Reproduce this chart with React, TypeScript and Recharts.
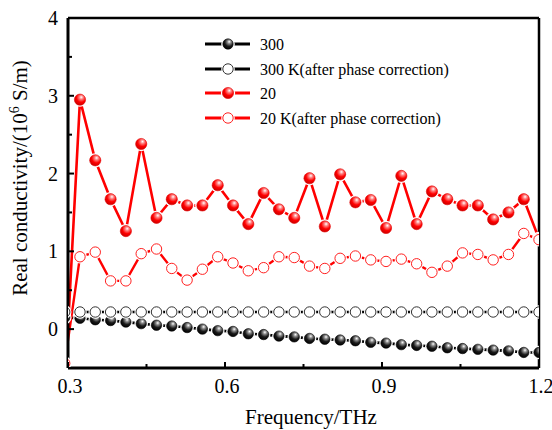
import React from 'react';
import { LineChart, Line, XAxis, YAxis, ReferenceLine } from 'recharts';

const frequency = [0.2937, 0.3229, 0.3521, 0.3814, 0.4106, 0.4399, 0.4691, 0.4983, 0.5276, 0.5568, 0.5861, 0.6153, 0.6445, 0.6738, 0.703, 0.7323, 0.7615, 0.7907, 0.82, 0.8492, 0.8785, 0.9077, 0.9369, 0.9662, 0.9954, 1.0247, 1.0539, 1.0831, 1.1124, 1.1416, 1.1709, 1.2];
const sigma300 = [0.15, 0.14, 0.12, 0.11, 0.09, 0.07, 0.05, 0.04, 0.02, 0.0, -0.02, -0.03, -0.06, -0.07, -0.09, -0.1, -0.12, -0.13, -0.14, -0.15, -0.17, -0.18, -0.2, -0.21, -0.22, -0.24, -0.25, -0.26, -0.27, -0.28, -0.3, -0.3];
const sigma300Corrected = [0.22, 0.22, 0.22, 0.22, 0.22, 0.22, 0.22, 0.22, 0.22, 0.22, 0.22, 0.22, 0.22, 0.22, 0.22, 0.22, 0.22, 0.22, 0.22, 0.22, 0.22, 0.22, 0.22, 0.22, 0.22, 0.22, 0.22, 0.22, 0.22, 0.22, 0.22, 0.22];
const sigma20 = [-0.8, 2.95, 2.17, 1.67, 1.26, 2.38, 1.43, 1.67, 1.59, 1.59, 1.85, 1.59, 1.35, 1.75, 1.54, 1.43, 1.94, 1.32, 1.99, 1.63, 1.66, 1.3, 1.97, 1.35, 1.77, 1.67, 1.59, 1.59, 1.41, 1.5, 1.67, 1.16];
const sigma20Corrected = [-0.44, 0.93, 0.99, 0.62, 0.62, 0.97, 1.03, 0.78, 0.63, 0.77, 0.93, 0.85, 0.75, 0.79, 0.93, 0.92, 0.81, 0.78, 0.91, 0.94, 0.89, 0.87, 0.9, 0.84, 0.73, 0.81, 0.98, 0.96, 0.89, 0.96, 1.23, 1.15];

const xTicks = [0.3, 0.45, 0.6, 0.75, 0.9, 1.05, 1.2];
const xTickLabels = ['0.3', '', '0.6', '', '0.9', '', '1.2'];
const yTicks = [-0.5, 0, 0.5, 1, 1.5, 2, 2.5, 3, 3.5, 4];
const yTickLabels = ['', '0', '', '1', '', '2', '', '3', '', '4'];

const legendLabels = ['300', '300 K(after phase correction)', '20', '20 K(after phase correction)'];
const xTitle = 'Frequency/THz';

const data = frequency.map((f, i) => ({
  f,
  s300: sigma300[i],
  s300c: sigma300Corrected[i],
  s20: sigma20[i],
  s20c: sigma20Corrected[i],
}));

const FONT = '"Liberation Serif", "Times New Roman", serif';

type Kind = 'blackBall' | 'blackOpen' | 'redBall' | 'redOpen';

const Marker = ({ cx, cy, kind }: { cx: number; cy: number; kind: Kind }) => {
  const r = kind === 'redBall' ? 5.6 : 5.2;
  let body;
  if (kind === 'blackBall') body = <circle cx={cx} cy={cy} r={r} fill="url(#gradBlack)" stroke="#000" strokeWidth={0.6} />;
  else if (kind === 'redBall') body = <circle cx={cx} cy={cy} r={r} fill="url(#gradRed)" stroke="#e00000" strokeWidth={0.6} />;
  else if (kind === 'blackOpen') body = <circle cx={cx} cy={cy} r={r} fill="#fff" stroke="#333" strokeWidth={1} />;
  else body = <circle cx={cx} cy={cy} r={r} fill="#fff" stroke="#ff2020" strokeWidth={1} />;
  return (
    <g>
      <circle cx={cx} cy={cy} r={r + 1.6} fill="#fff" />
      {body}
    </g>
  );
};

const makeDot = (kind: Kind) => (props: any) => {
  const { cx, cy, index } = props;
  if (cx == null || cy == null || isNaN(cx) || isNaN(cy)) return <g key={`d-${kind}-${index}`} />;
  return <g key={`d-${kind}-${index}`}><Marker cx={cx} cy={cy} kind={kind} /></g>;
};

const XTick = (props: any) => {
  const { x, y, payload } = props;
  const i = xTicks.indexOf(payload.value);
  const label = i >= 0 ? xTickLabels[i] : '';
  const major = label !== '';
  return (
    <g>
      <line x1={x} y1={y} x2={x} y2={y - (major ? 6 : 4)} stroke="#000" strokeWidth={2} />
      {label && (
        <text x={x + 2} y={y + 25} textAnchor="middle" fontFamily={FONT} fontSize={20} fill="#000">
          {label}
        </text>
      )}
    </g>
  );
};

const YTick = (props: any) => {
  const { x, y, payload } = props;
  const i = yTicks.indexOf(payload.value);
  const label = i >= 0 ? yTickLabels[i] : '';
  const major = label !== '';
  return (
    <g>
      <line x1={x} y1={y} x2={x + (major ? 6 : 4)} y2={y} stroke="#000" strokeWidth={2} />
      {label && (
        <text x={x - 10} y={y + 7} textAnchor="end" fontFamily={FONT} fontSize={20} fill="#000">
          {label}
        </text>
      )}
    </g>
  );
};

const legendKinds: Kind[] = ['blackBall', 'blackOpen', 'redBall', 'redOpen'];
const legendColors = ['#000', '#000', '#ff0000', '#ff0000'];
const legendRows = [44, 69, 93, 118];

export default function App() {
  return (
    <div style={{ position: 'absolute', left: 0, top: 0, width: 552, height: 430, background: '#fff' }}>
      <svg width={0} height={0} style={{ position: 'absolute' }}>
        <defs>
          <radialGradient id="gradBlack" cx="0.6" cy="0.32" r="0.7" fx="0.62" fy="0.28">
            <stop offset="0" stopColor="#ffffff" />
            <stop offset="0.25" stopColor="#8a8a8a" />
            <stop offset="0.6" stopColor="#1a1a1a" />
            <stop offset="1" stopColor="#000000" />
          </radialGradient>
          <radialGradient id="gradRed" cx="0.6" cy="0.32" r="0.7" fx="0.62" fy="0.28">
            <stop offset="0" stopColor="#ffffff" />
            <stop offset="0.25" stopColor="#ff8080" />
            <stop offset="0.6" stopColor="#ff0000" />
            <stop offset="1" stopColor="#c80000" />
          </radialGradient>
        </defs>
      </svg>
      <LineChart width={552} height={430} data={data} margin={{ top: 18, right: 13, bottom: 32, left: 28 }}>
        <XAxis
          dataKey="f"
          type="number"
          domain={[0.3, 1.2]}
          allowDataOverflow
          ticks={xTicks}
          interval={0}
          height={30}
          tickSize={0}
          tickMargin={0}
          tickLine={false}
          axisLine={{ stroke: '#000', strokeWidth: 3 }}
          tick={XTick}
        />
        <YAxis
          type="number"
          domain={[-0.5, 4]}
          allowDataOverflow
          ticks={yTicks}
          interval={0}
          width={40}
          tickSize={0}
          tickMargin={0}
          tickLine={false}
          axisLine={{ stroke: '#000', strokeWidth: 3 }}
          tick={YTick}
        />
        <Line type="linear" dataKey="s300" stroke="#000" strokeWidth={2.6} dot={makeDot('blackBall')} activeDot={false} isAnimationActive={false} />
        <Line type="linear" dataKey="s300c" stroke="#000" strokeWidth={2.6} dot={makeDot('blackOpen')} activeDot={false} isAnimationActive={false} />
        <Line type="linear" dataKey="s20" stroke="#ff0000" strokeWidth={2.6} dot={makeDot('redBall')} activeDot={false} isAnimationActive={false} />
        <Line type="linear" dataKey="s20c" stroke="#ff0000" strokeWidth={2.4} dot={makeDot('redOpen')} activeDot={false} isAnimationActive={false} />
        <ReferenceLine y={4} stroke="#000" strokeWidth={2.5} />
        <ReferenceLine x={1.2} stroke="#000" strokeWidth={2.5} />
      </LineChart>
      <svg width={552} height={430} style={{ position: 'absolute', left: 0, top: 0, pointerEvents: 'none' }}>
        {legendRows.map((ry, i) => (
          <g key={i}>
            <line x1={205} y1={ry} x2={250} y2={ry} stroke={legendColors[i]} strokeWidth={3} />
            <Marker cx={228} cy={ry} kind={legendKinds[i]} />
            <text x={260} y={ry + 5.5} fontFamily={FONT} fontSize={16} fill="#000">
              {legendLabels[i]}
            </text>
          </g>
        ))}
        <text x={311} y={424} textAnchor="middle" fontFamily={FONT} fontSize={21} fill="#000">
          {xTitle}
        </text>
        <text x={27} y={178} textAnchor="middle" fontFamily={FONT} fontSize={21} fill="#000" transform="rotate(-90 27 178)">
          Real conductivity/(10
          <tspan fontSize={14} dy={-8}>6</tspan>
          <tspan dy={8}> S/m)</tspan>
        </text>
      </svg>
    </div>
  );
}
